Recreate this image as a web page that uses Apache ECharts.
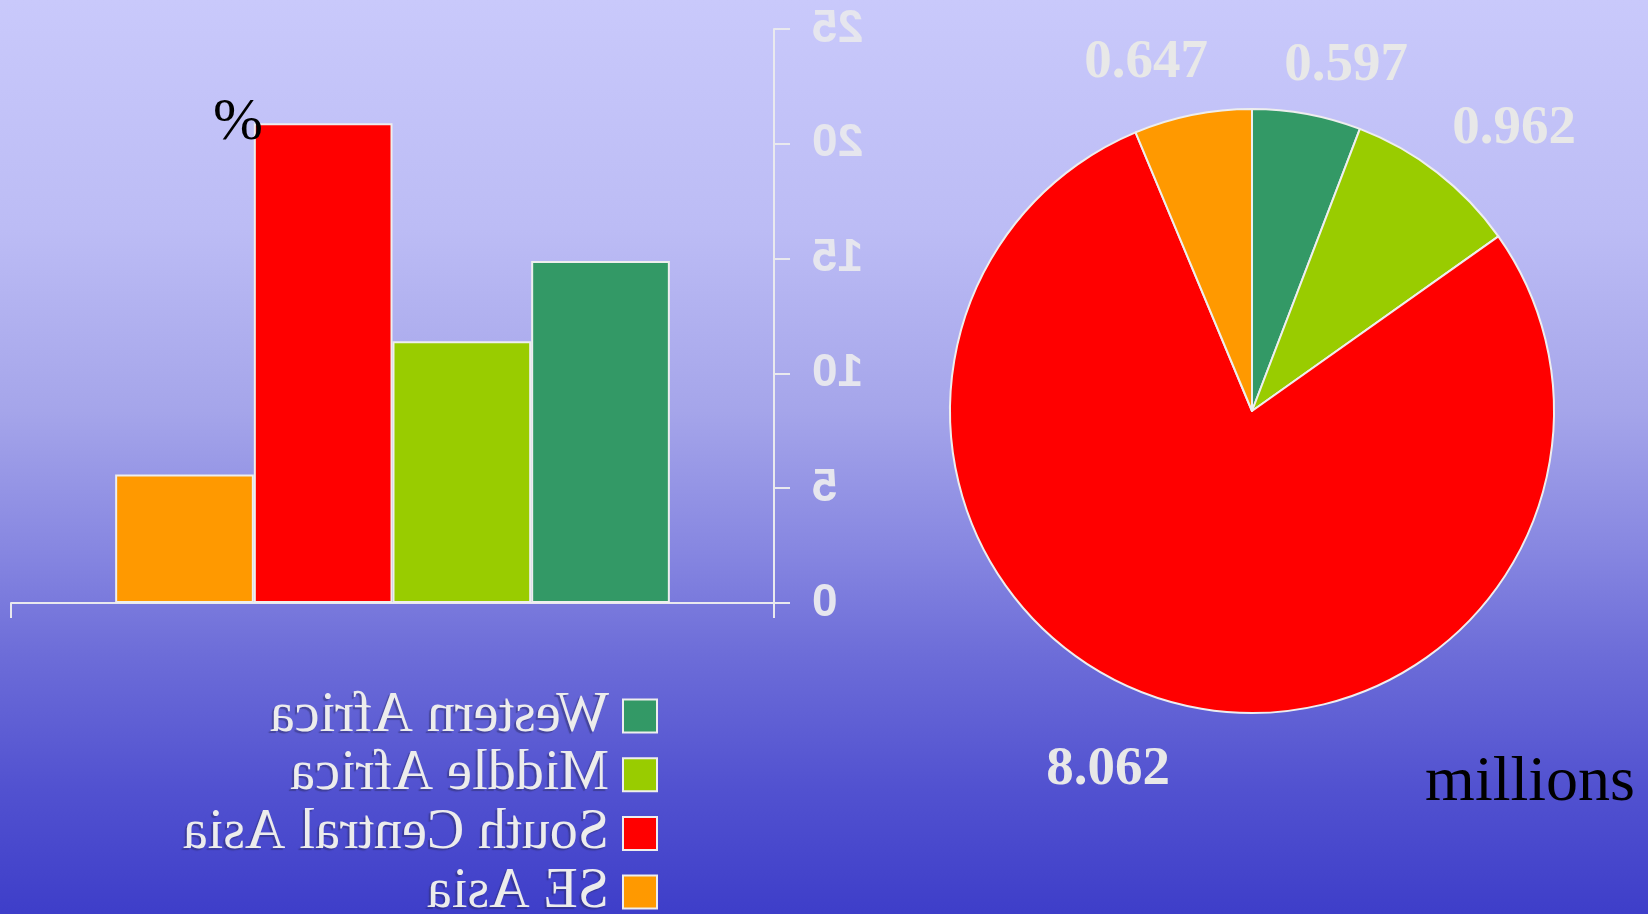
<!DOCTYPE html>
<html><head><meta charset="utf-8">
<script src="https://cdn.jsdelivr.net/npm/echarts@6/dist/echarts.min.js"></script>
<style>
html,body{margin:0;padding:0;width:1648px;height:914px;overflow:hidden;}
#wrap{position:relative;width:1648px;height:914px;}
#bars{position:absolute;left:0;top:0;width:1648px;height:914px;transform:scaleX(-1);}
#pie{position:absolute;left:0;top:0;width:1648px;height:914px;}
</style></head><body>
<div id="wrap"><div id="bars"></div><div id="pie"></div></div>
<script>
// ---- data ----
const regions = ['Western Africa', 'Middle Africa', 'South Central Asia', 'SE Asia'];
const percentValues = [14.9, 11.4, 20.9, 5.6];
const millionsValues = [0.597, 0.962, 8.062, 0.647];
const yAxisMin = 0, yAxisMax = 25, yAxisStep = 5;
const colors = ['#339966', '#99cc00', '#ff0000', '#ff9900'];

// ---- styles ----
const light = '#e9e9ee';
const pieLabelXY = [[1346, 66], [1514, 129], [1108, 770], [1146, 63]];

const bg = {
  type: 'linear', x: 0, y: 0, x2: 0, y2: 1,
  colorStops: [
    {offset: 0, color: '#c9c9fb'},
    {offset: 0.25, color: '#bcbcf5'},
    {offset: 0.45, color: '#a5a5ea'},
    {offset: 0.6, color: '#8787e1'},
    {offset: 0.72, color: '#6c6cd8'},
    {offset: 0.86, color: '#5252d0'},
    {offset: 1, color: '#3e3ec9'}
  ]
};

// Bar chart (drawn mirrored via CSS)
const barChart = echarts.init(document.getElementById('bars'), null, {renderer: 'canvas'});
barChart.setOption({
  animation: false,
  backgroundColor: bg,
  grid: {left: 874, right: 11, top: 29, bottom: 311},
  legend: {
    orient: 'vertical', left: 990, top: 688, height: 260, padding: 0,
    itemWidth: 34, itemHeight: 33, itemGap: 2.7,
    icon: 'rect',
    data: regions,
    textStyle: {
      fontFamily: 'Liberation Serif', fontSize: 56, color: '#ececec',
      padding: [0, 0, 0, 9],
      textShadowColor: 'rgba(40,40,90,0.45)', textShadowOffsetX: 2, textShadowOffsetY: 2, textShadowBlur: 1
    }
  },
  xAxis: {
    type: 'category', data: [''],
    axisLine: {lineStyle: {color: light, width: 2}},
    axisTick: {show: true, length: 15, lineStyle: {color: light, width: 2}},
    axisLabel: {show: false}
  },
  yAxis: {
    type: 'value', min: yAxisMin, max: yAxisMax, interval: yAxisStep, position: 'left',
    splitLine: {show: false},
    axisLine: {show: true, lineStyle: {color: light, width: 2}},
    axisTick: {show: true, length: 16, lineStyle: {color: light, width: 2}},
    axisLabel: {margin: 38, fontFamily: 'Liberation Sans', fontWeight: 'bold', fontSize: 46, color: '#e6e6ee'}
  },
  series: regions.map((name, i) => ({
    name, type: 'bar', data: [percentValues[i]],
    barGap: '0%', barCategoryGap: '27.3%',
    itemStyle: {color: colors[i], borderColor: '#eeeeee', borderWidth: 2},
    emphasis: {disabled: true}
  }))
});

// Pie chart + plain texts
const pieChart = echarts.init(document.getElementById('pie'), null, {renderer: 'canvas'});
pieChart.setOption({
  animation: false,
  backgroundColor: 'transparent',
  graphic: [
    {type: 'text', left: 213, top: 125 - 32, z: 100,
     style: {text: '%', font: '60px "Liberation Serif"', fill: '#000000'}},
    {type: 'text', x: 1530, y: 783, z: 100,
     style: {text: 'millions', font: '64px "Liberation Serif"', fill: '#000000', align: 'center', verticalAlign: 'middle'}}
  ],
  series: [{
    type: 'pie', center: [1252, 411], radius: 302, startAngle: 90, clockwise: true,
    data: regions.map((name, i) => ({name, value: millionsValues[i], itemStyle: {color: colors[i]}})),
    itemStyle: {borderColor: '#eeeeee', borderWidth: 2},
    label: {
      show: true, position: 'outside',
      formatter: p => p.value.toFixed(3),
      fontFamily: 'Liberation Serif', fontWeight: 'bold', fontSize: 55, color: '#e8e8e8'
    },
    labelLine: {show: false},
    labelLayout: p => ({x: pieLabelXY[p.dataIndex][0], y: pieLabelXY[p.dataIndex][1], align: 'center', verticalAlign: 'middle'}),
    emphasis: {disabled: true}
  }]
});
</script>
</body></html>
